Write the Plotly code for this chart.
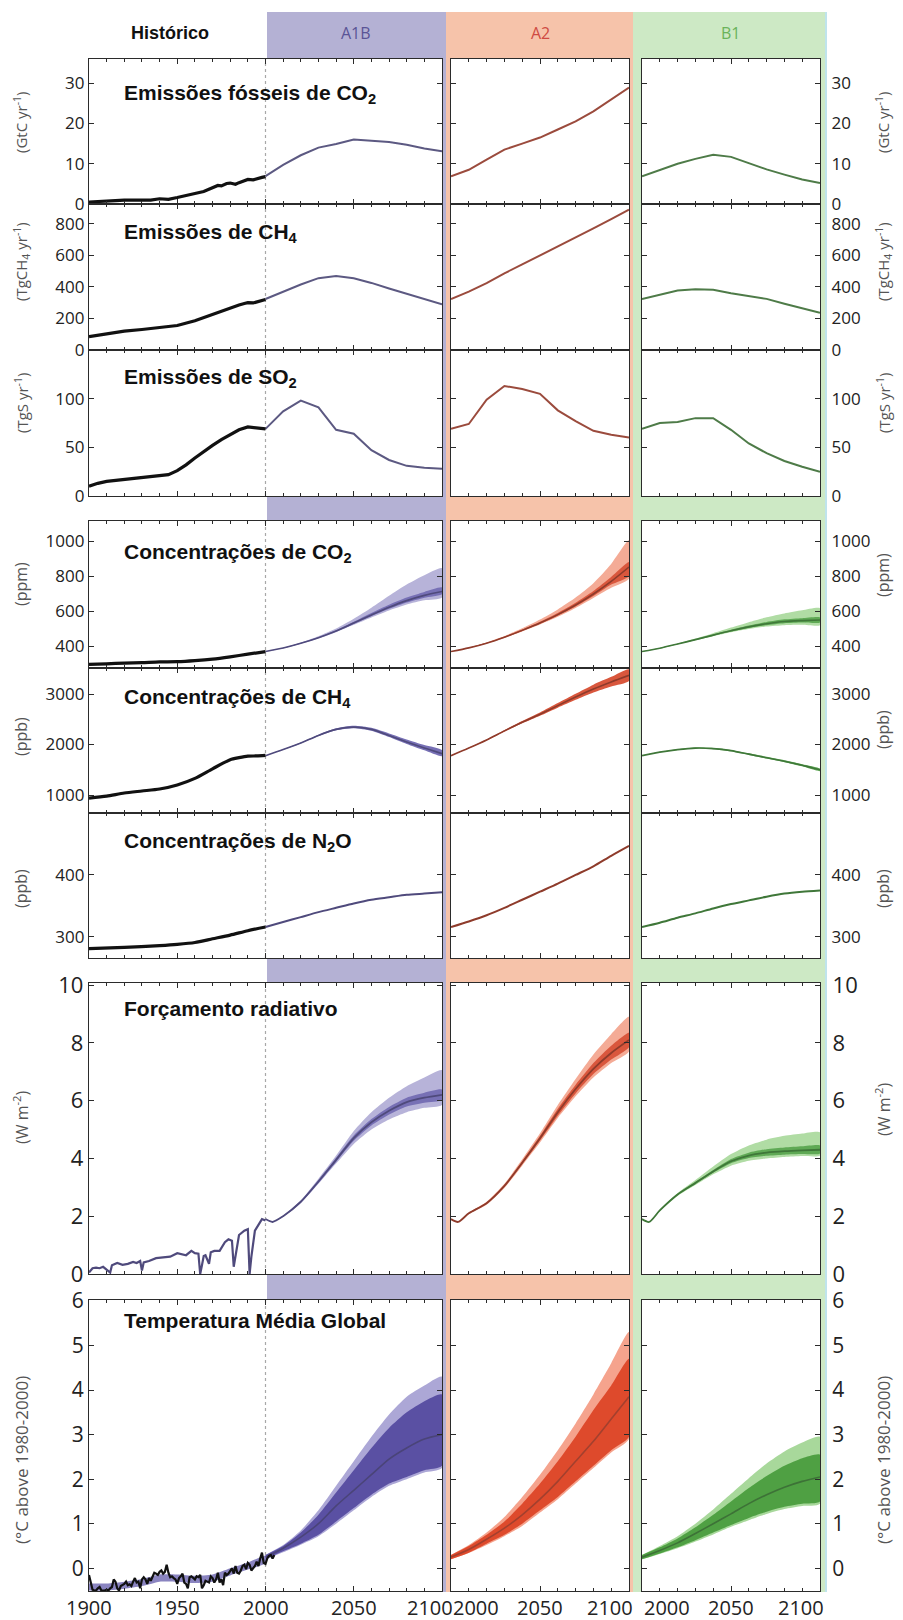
import plotly.graph_objects as go

# ------------------------------------------------------------------ data
PROJ_YEARS = [2000, 2010, 2020, 2030, 2040, 2050, 2060, 2070, 2080, 2090, 2100]
F_YEARS = [2000, 2004, 2010, 2020, 2030, 2040, 2050, 2060, 2070, 2080, 2090, 2100]

# fossil CO2 emissions (GtC/yr)
CO2E_HIST_YEARS = [1900, 1905, 1910, 1915, 1920, 1925, 1930, 1935, 1940, 1945, 1950, 1955, 1960,
                   1965, 1970, 1973, 1975, 1978, 1980, 1983, 1985, 1988, 1990, 1993, 1995, 1998, 2000]
CO2E_HIST = [0.5, 0.55, 0.8, 0.85, 0.95, 1.0, 1.05, 0.95, 1.3, 1.15, 1.6, 2.0, 2.6,
             3.1, 4.0, 4.6, 4.5, 5.1, 5.2, 4.9, 5.3, 5.8, 6.1, 6.0, 6.3, 6.6, 6.8]
CO2E_A1B = [6.9, 9.7, 12.1, 14.0, 14.9, 16.0, 15.7, 15.4, 14.7, 13.8, 13.1]
CO2E_A2 = [6.9, 8.5, 11.0, 13.5, 15.0, 16.5, 18.5, 20.5, 23.0, 25.9, 28.9]
CO2E_B1 = [6.9, 8.5, 10.0, 11.2, 12.2, 11.7, 10.2, 8.6, 7.3, 6.1, 5.2]

# CH4 emissions (TgCH4/yr)
CH4E_HIST_YEARS = [1900, 1910, 1920, 1930, 1940, 1950, 1960, 1970, 1975, 1980, 1985, 1988, 1990, 1993, 1995, 2000]
CH4E_HIST = [85, 105, 120, 130, 140, 155, 185, 225, 250, 265, 285, 295, 300, 298, 305, 320]
CH4E_A1B = [323, 370, 415, 455, 468, 455, 425, 390, 355, 320, 289]
CH4E_A2 = [323, 370, 424, 486, 542, 598, 654, 711, 770, 829, 889]
CH4E_B1 = [323, 349, 377, 385, 381, 359, 342, 324, 293, 266, 236]

# SO2 emissions (TgS/yr)
SO2E_HIST_YEARS = [1900, 1905, 1910, 1920, 1930, 1940, 1945, 1950, 1955, 1960, 1965, 1970, 1975, 1980, 1985, 1990, 1995, 2000]
SO2E_HIST = [10, 13, 15, 17, 19, 21, 22, 26, 32, 39, 46, 52, 58, 63, 68, 71, 70, 69]
SO2E_A1B = [69, 87, 98, 91, 68, 64, 47, 37, 31, 29, 28]
SO2E_A2 = [69, 74, 99, 113, 110, 105, 88, 77, 67, 63, 60]
SO2E_B1 = [69, 75, 76, 80, 80, 68, 54, 44, 36, 30, 25]

# CO2 concentration (ppm)
CO2C_HIST_YEARS = [1900, 1910, 1920, 1930, 1940, 1950, 1960, 1970, 1980, 1990, 2000]
CO2C_HIST = [296, 299, 303, 306, 310, 311, 317, 326, 339, 354, 369]
CO2C_A1B = [369, 389, 416, 448, 486, 532, 578, 622, 660, 690, 712]
CO2C_A1B_OUT_LO = [369, 388, 414, 444, 480, 522, 564, 604, 638, 662, 678]
CO2C_A1B_OUT_HI = [369, 391, 421, 457, 501, 557, 620, 688, 752, 805, 845]
CO2C_A1B_IN_LO = [369, 388, 415, 446, 483, 527, 571, 613, 649, 677, 697]
CO2C_A1B_IN_HI = [369, 390, 418, 451, 491, 540, 590, 637, 678, 710, 735]
CO2C_A2 = [369, 390, 417, 451, 490, 532, 580, 635, 698, 770, 852]
CO2C_A2_OUT_LO = [369, 389, 415, 447, 484, 524, 568, 618, 675, 733, 785]
CO2C_A2_OUT_HI = [369, 392, 421, 458, 502, 552, 610, 678, 760, 870, 1005]
CO2C_A2_IN_LO = [369, 389, 416, 449, 487, 528, 574, 626, 686, 752, 800]
CO2C_A2_IN_HI = [369, 391, 419, 454, 495, 540, 590, 648, 715, 795, 880]
CO2C_B1 = [369, 388, 412, 437, 463, 488, 510, 528, 541, 546, 549]
CO2C_B1_OUT_LO = [369, 387, 410, 433, 457, 479, 498, 512, 520, 522, 520]
CO2C_B1_OUT_HI = [369, 389, 415, 443, 474, 506, 537, 565, 587, 605, 617]
CO2C_B1_IN_LO = [369, 388, 411, 435, 460, 484, 504, 520, 531, 535, 535]
CO2C_B1_IN_HI = [369, 389, 413, 439, 467, 494, 518, 538, 553, 560, 564]

# CH4 concentration (ppb)
CH4C_HIST_YEARS = [1900, 1910, 1920, 1930, 1940, 1950, 1960, 1970, 1980, 1985, 1990, 1995, 2000]
CH4C_HIST = [940, 980, 1040, 1080, 1120, 1200, 1330, 1520, 1700, 1740, 1770, 1775, 1785]
CH4C_A1B = [1780, 1900, 2030, 2180, 2300, 2345, 2300, 2180, 2050, 1930, 1820]
CH4C_A1B_LO = [1780, 1895, 2022, 2168, 2282, 2322, 2272, 2148, 2012, 1885, 1770]
CH4C_A1B_HI = [1780, 1905, 2040, 2195, 2320, 2370, 2330, 2220, 2100, 1990, 1890]
CH4C_A2 = [1780, 1930, 2090, 2270, 2440, 2600, 2770, 2940, 3100, 3240, 3370]
CH4C_A2_LO = [1780, 1925, 2080, 2255, 2420, 2570, 2730, 2885, 3030, 3150, 3260]
CH4C_A2_HI = [1780, 1935, 2100, 2285, 2465, 2635, 2820, 3005, 3185, 3340, 3490]
CH4C_B1 = [1780, 1850, 1900, 1930, 1920, 1880, 1810, 1740, 1670, 1590, 1500]
CH4C_B1_LO = [1780, 1845, 1892, 1920, 1908, 1866, 1794, 1722, 1650, 1568, 1475]
CH4C_B1_HI = [1780, 1855, 1908, 1940, 1932, 1894, 1826, 1758, 1690, 1612, 1525]

# N2O concentration (ppb)
N2O_HIST_YEARS = [1900, 1920, 1940, 1950, 1960, 1970, 1980, 1990, 2000]
N2O_HIST = [281, 283, 286, 288, 291, 297, 303, 310, 316]
N2O_A1B = [316, 324, 332, 340, 347, 354, 360, 364, 368, 370, 372]
N2O_A2 = [316, 325, 335, 347, 360, 373, 386, 400, 414, 431, 447]
N2O_B1 = [316, 323, 331, 338, 346, 353, 359, 365, 370, 373, 375]

# radiative forcing (W m-2)
RF_HIST_YEARS = [1900, 1902, 1904, 1906, 1908, 1910, 1912, 1913, 1916, 1919, 1922, 1925, 1927, 1929,
                 1930, 1931, 1934, 1938, 1942, 1946, 1950, 1953, 1955, 1958, 1960, 1962, 1963, 1964,
                 1965, 1966, 1968, 1969, 1971, 1974, 1977, 1979, 1981, 1982, 1983, 1985, 1988, 1990,
                 1991, 1992, 1994, 1996, 1998, 2000]
RF_HIST = [0.05, 0.2, 0.22, 0.2, 0.25, 0.15, 0.05, 0.3, 0.38, 0.32, 0.35, 0.42, 0.38, 0.45,
           0.12, 0.4, 0.45, 0.55, 0.58, 0.6, 0.72, 0.68, 0.65, 0.8, 0.72, 0.7, 0.0, 0.3,
           0.62, 0.65, 0.35, 0.75, 0.8, 0.8, 1.1, 1.2, 1.15, 0.25, 0.6, 1.35, 1.5, 1.55,
           0.0, 0.6, 1.5, 1.7, 1.9, 1.85]
RF_A1B = [1.9, 1.8, 2.0, 2.5, 3.2, 3.95, 4.7, 5.25, 5.65, 5.95, 6.1, 6.2]
RF_A1B_OUT_HI = [1.9, 1.8, 2.02, 2.55, 3.3, 4.1, 4.95, 5.6, 6.1, 6.5, 6.8, 7.05]
RF_A1B_OUT_LO = [1.9, 1.8, 1.98, 2.45, 3.12, 3.82, 4.5, 5.0, 5.35, 5.6, 5.75, 5.85]
RF_A1B_IN_HI = [1.9, 1.8, 2.01, 2.53, 3.25, 4.02, 4.79, 5.36, 5.78, 6.1, 6.27, 6.38]
RF_A1B_IN_LO = [1.9, 1.8, 1.99, 2.47, 3.15, 3.88, 4.61, 5.14, 5.52, 5.8, 5.93, 6.02]
RF_A2 = [1.9, 1.8, 2.1, 2.45, 3.05, 3.85, 4.7, 5.6, 6.4, 7.1, 7.65, 8.1]
RF_A2_OUT_HI = [1.9, 1.8, 2.12, 2.5, 3.12, 3.97, 4.87, 5.85, 6.75, 7.6, 8.3, 8.9]
RF_A2_OUT_LO = [1.9, 1.8, 2.08, 2.4, 2.98, 3.75, 4.55, 5.4, 6.15, 6.8, 7.3, 7.7]
RF_A2_IN_HI = [1.9, 1.8, 2.11, 2.47, 3.08, 3.9, 4.78, 5.72, 6.55, 7.3, 7.9, 8.35]
RF_A2_IN_LO = [1.9, 1.8, 2.09, 2.43, 3.02, 3.8, 4.62, 5.48, 6.25, 6.92, 7.42, 7.85]
RF_B1 = [1.9, 1.8, 2.2, 2.75, 3.15, 3.55, 3.9, 4.1, 4.2, 4.25, 4.28, 4.3]
RF_B1_OUT_HI = [1.9, 1.8, 2.22, 2.8, 3.25, 3.72, 4.15, 4.45, 4.65, 4.78, 4.86, 4.9]
RF_B1_OUT_LO = [1.9, 1.8, 2.18, 2.7, 3.08, 3.45, 3.75, 3.92, 4.0, 4.05, 4.08, 4.1]
RF_B1_IN_HI = [1.9, 1.8, 2.21, 2.77, 3.19, 3.6, 3.98, 4.2, 4.32, 4.38, 4.42, 4.45]
RF_B1_IN_LO = [1.9, 1.8, 2.19, 2.73, 3.11, 3.5, 3.83, 4.01, 4.09, 4.13, 4.15, 4.17]

# global mean temperature (deg C above 1980-2000)
T_OBS_YEARS = list(range(1900, 2006))
T_OBS = [-0.15, -0.35, -0.48, -0.50, -0.50, -0.45, -0.42, -0.50, -0.50, -0.50,
         -0.48, -0.50, -0.45, -0.42, -0.25, -0.30, -0.45, -0.50, -0.40, -0.38,
         -0.35, -0.30, -0.38, -0.36, -0.40, -0.30, -0.22, -0.32, -0.30, -0.45,
         -0.25, -0.20, -0.25, -0.35, -0.22, -0.28, -0.20, -0.10, -0.12, -0.15,
         -0.08, -0.05, -0.12, -0.08, 0.08, -0.10, -0.20, -0.18, -0.22, -0.25,
         -0.35, -0.22, -0.18, -0.12, -0.32, -0.35, -0.45, -0.20, -0.18, -0.22,
         -0.25, -0.18, -0.20, -0.15, -0.45, -0.38, -0.28, -0.30, -0.32, -0.18,
         -0.22, -0.32, -0.25, -0.10, -0.32, -0.25, -0.38, -0.10, -0.15, -0.12,
         -0.05, 0.00, -0.12, 0.05, -0.10, -0.12, -0.05, 0.05, 0.08, -0.02,
         0.12, 0.08, -0.05, 0.00, 0.05, 0.15, 0.05, 0.22, 0.35, 0.12,
         0.10, 0.22, 0.28, 0.30, 0.22, 0.30]
T_MODEL_HIST_YEARS = [1900, 1910, 1920, 1930, 1940, 1950, 1960, 1970, 1980, 1990, 2000]
T_MODEL_HIST_LO = [-0.50, -0.50, -0.46, -0.40, -0.30, -0.30, -0.33, -0.30, -0.16, -0.03, 0.12]
T_MODEL_HIST_HI = [-0.34, -0.34, -0.30, -0.24, -0.14, -0.14, -0.17, -0.14, 0.00, 0.13, 0.28]
T_A1B = [0.25, 0.45, 0.7, 1.0, 1.4, 1.75, 2.1, 2.45, 2.7, 2.9, 3.0]
T_A1B_IN_LO = [0.2, 0.38, 0.55, 0.75, 1.05, 1.35, 1.65, 1.9, 2.05, 2.2, 2.3]
T_A1B_IN_HI = [0.3, 0.5, 0.8, 1.2, 1.7, 2.2, 2.7, 3.15, 3.5, 3.75, 3.9]
T_A1B_OUT_LO = [0.2, 0.36, 0.53, 0.72, 1.0, 1.3, 1.6, 1.85, 2.0, 2.15, 2.25]
T_A1B_OUT_HI = [0.3, 0.52, 0.85, 1.3, 1.85, 2.4, 2.95, 3.45, 3.85, 4.1, 4.3]
T_A2 = [0.25, 0.42, 0.65, 0.9, 1.2, 1.55, 1.95, 2.4, 2.85, 3.35, 3.85]
T_A2_IN_LO = [0.2, 0.35, 0.55, 0.75, 1.0, 1.3, 1.6, 1.95, 2.3, 2.65, 2.95]
T_A2_IN_HI = [0.3, 0.5, 0.75, 1.05, 1.45, 1.9, 2.4, 2.95, 3.55, 4.1, 4.7]
T_A2_OUT_LO = [0.2, 0.34, 0.52, 0.72, 0.95, 1.25, 1.55, 1.9, 2.25, 2.6, 2.9]
T_A2_OUT_HI = [0.3, 0.52, 0.8, 1.15, 1.6, 2.1, 2.65, 3.25, 3.9, 4.6, 5.3]
T_B1 = [0.25, 0.4, 0.57, 0.78, 1.0, 1.22, 1.45, 1.65, 1.82, 1.95, 2.05]
T_B1_IN_LO = [0.2, 0.33, 0.47, 0.63, 0.8, 0.97, 1.13, 1.27, 1.38, 1.45, 1.5]
T_B1_IN_HI = [0.3, 0.47, 0.67, 0.92, 1.2, 1.5, 1.8, 2.07, 2.3, 2.47, 2.55]
T_B1_OUT_LO = [0.2, 0.32, 0.45, 0.6, 0.76, 0.93, 1.08, 1.22, 1.33, 1.4, 1.45]
T_B1_OUT_HI = [0.3, 0.5, 0.72, 1.0, 1.32, 1.67, 2.02, 2.35, 2.62, 2.82, 2.95]

# axis / text labels
PANEL_TITLES = ["Emissões fósseis de CO<sub>2</sub>", "Emissões de CH<sub>4</sub>",
                "Emissões de SO<sub>2</sub>", "Concentrações de CO<sub>2</sub>",
                "Concentrações de CH<sub>4</sub>", "Concentrações de N<sub>2</sub>O",
                "Forçamento radiativo", "Temperatura Média Global"]
UNIT_LABELS = ["(GtC yr<sup>-1</sup>)", "(TgCH<sub>4</sub> yr<sup>-1</sup>)", "(TgS yr<sup>-1</sup>)",
               "(ppm)", "(ppb)", "(ppb)", "(W m<sup>-2</sup>)", "(°C above 1980-2000)"]
Y_RANGES = [[0, 36], [0, 925], [0, 150], [275, 1115], [645, 3515], [266, 500], [0, 10.07], [-0.51, 6.02]]
Y_TICKS = [[0, 10, 20, 30], [0, 200, 400, 600, 800], [0, 50, 100], [400, 600, 800, 1000],
           [1000, 2000, 3000], [300, 400], [0, 2, 4, 6, 8, 10], [0, 1, 2, 3, 4, 5, 6]]
X_TICKS_HIST = [1900, 1950, 2000, 2050, 2100]
X_TICKS_PROJ = [2000, 2050, 2100]
SCENARIOS = ["A1B", "A2", "B1"]

# ------------------------------------------------------------------ layout geometry (px)
W, H = 903, 1620
COLS = [(89, 442), (451, 629), (642, 820)]
ROWS = [(59, 204), (204, 350), (350, 496), (521, 668), (668, 813), (813, 958), (983, 1274), (1300, 1591)]
TICK_SIZES = [17, 17, 17, 17, 17, 17, 22, 21]
TITLE_Y = [94, 233, 378, 553, 698, 842, 1008, 1320]
LEFT_UNIT_Y = [122, 262, 403, 584, 737, 889, 1118, 1460]
RIGHT_UNIT_Y = [122, 262, 403, 575, 730, 889, 1110, 1460]
UNIT_SIZES = [15, 15, 15, 16, 16, 16, 16, 17]

BAND_BG = {"A1B": "#b4b1d4", "A2": "#f6c3aa", "B1": "#cde9c5"}
BAND_TXT = {"A1B": "#5a5496", "A2": "#cf4a42", "B1": "#6ab35a"}
EMIS_LINE = {"A1B": "#5c5982", "A2": "#9b4b3d", "B1": "#4e7b48"}
CONC_LINE = {"A1B": "#4f4a7c", "A2": "#8e3b2b", "B1": "#3f7739"}
CONC_OUT = {"A1B": "#b7b3d9", "A2": "#f4ab96", "B1": "#b0dca4"}
CONC_IN = {"A1B": "#7770b5", "A2": "#d9573d", "B1": "#5fa955"}
T_OUT = {"A1B": "#aca7d6", "A2": "#f5a38d", "B1": "#a8d89b"}
T_IN = {"A1B": "#5a50a3", "A2": "#de4a2c", "B1": "#4fa043"}
T_LINE = {"A1B": "#4a4478", "A2": "#a3402e", "B1": "#3d7237"}
FRAME = "#2b2b2b"
FONT = "Open Sans"


def px_x(v):
    return v / W


def px_y(v):
    return 1 - v / H


def ids(r, c):
    n = r * 3 + c + 1
    return ("x" if n == 1 else f"x{n}"), ("y" if n == 1 else f"y{n}"), n


fig = go.Figure()


def add_line(r, c, x, y, color, width, shape="linear"):
    xid, yid, _ = ids(r, c)
    fig.add_trace(go.Scatter(x=x, y=y, mode="lines", xaxis=xid, yaxis=yid,
                             line=dict(color=color, width=width, shape=shape, smoothing=0.7),
                             showlegend=False, hoverinfo="skip"))


def add_band(r, c, x, lo, hi, color, shape="spline"):
    xid, yid, _ = ids(r, c)
    fig.add_trace(go.Scatter(x=list(x) + list(x)[::-1], y=list(hi) + list(lo)[::-1],
                             mode="lines", fill="toself", fillcolor=color,
                             line=dict(width=0, color=color, shape=shape, smoothing=0.6),
                             xaxis=xid, yaxis=yid, showlegend=False, hoverinfo="skip"))


# ---------------- emissions rows (0..2)
emis = [
    (CO2E_HIST_YEARS, CO2E_HIST, {"A1B": CO2E_A1B, "A2": CO2E_A2, "B1": CO2E_B1}),
    (CH4E_HIST_YEARS, CH4E_HIST, {"A1B": CH4E_A1B, "A2": CH4E_A2, "B1": CH4E_B1}),
    (SO2E_HIST_YEARS, SO2E_HIST, {"A1B": SO2E_A1B, "A2": SO2E_A2, "B1": SO2E_B1}),
]
for r, (hy, hv, proj) in enumerate(emis):
    add_line(r, 0, PROJ_YEARS, proj["A1B"], EMIS_LINE["A1B"], 2)
    add_line(r, 0, hy, hv, "#111111", 3.2)
    add_line(r, 1, PROJ_YEARS, proj["A2"], EMIS_LINE["A2"], 2)
    add_line(r, 2, PROJ_YEARS, proj["B1"], EMIS_LINE["B1"], 2)

# ---------------- CO2 concentration (row 3)
co2 = {
    "A1B": (CO2C_A1B, CO2C_A1B_OUT_LO, CO2C_A1B_OUT_HI, CO2C_A1B_IN_LO, CO2C_A1B_IN_HI),
    "A2": (CO2C_A2, CO2C_A2_OUT_LO, CO2C_A2_OUT_HI, CO2C_A2_IN_LO, CO2C_A2_IN_HI),
    "B1": (CO2C_B1, CO2C_B1_OUT_LO, CO2C_B1_OUT_HI, CO2C_B1_IN_LO, CO2C_B1_IN_HI),
}
for c, sc in enumerate(SCENARIOS):
    mid, olo, ohi, ilo, ihi = co2[sc]
    add_band(3, c, PROJ_YEARS, olo, ohi, CONC_OUT[sc])
    add_band(3, c, PROJ_YEARS, ilo, ihi, CONC_IN[sc])
    add_line(3, c, PROJ_YEARS, mid, CONC_LINE[sc], 1.6, "spline")
add_line(3, 0, CO2C_HIST_YEARS, CO2C_HIST, "#111111", 3.2, "spline")

# ---------------- CH4 concentration (row 4)
ch4 = {
    "A1B": (CH4C_A1B, CH4C_A1B_LO, CH4C_A1B_HI),
    "A2": (CH4C_A2, CH4C_A2_LO, CH4C_A2_HI),
    "B1": (CH4C_B1, CH4C_B1_LO, CH4C_B1_HI),
}
for c, sc in enumerate(SCENARIOS):
    mid, lo, hi = ch4[sc]
    add_band(4, c, PROJ_YEARS, lo, hi, CONC_IN[sc])
    add_line(4, c, PROJ_YEARS, mid, CONC_LINE[sc], 1.6, "spline")
add_line(4, 0, CH4C_HIST_YEARS, CH4C_HIST, "#111111", 3.2, "spline")

# ---------------- N2O concentration (row 5)
n2o = {"A1B": N2O_A1B, "A2": N2O_A2, "B1": N2O_B1}
for c, sc in enumerate(SCENARIOS):
    add_line(5, c, PROJ_YEARS, n2o[sc], CONC_LINE[sc], 2, "spline")
add_line(5, 0, N2O_HIST_YEARS, N2O_HIST, "#111111", 3.2, "spline")

# ---------------- radiative forcing (row 6)
rf = {
    "A1B": (RF_A1B, RF_A1B_OUT_LO, RF_A1B_OUT_HI, RF_A1B_IN_LO, RF_A1B_IN_HI),
    "A2": (RF_A2, RF_A2_OUT_LO, RF_A2_OUT_HI, RF_A2_IN_LO, RF_A2_IN_HI),
    "B1": (RF_B1, RF_B1_OUT_LO, RF_B1_OUT_HI, RF_B1_IN_LO, RF_B1_IN_HI),
}
for c, sc in enumerate(SCENARIOS):
    mid, olo, ohi, ilo, ihi = rf[sc]
    add_band(6, c, F_YEARS, olo, ohi, CONC_OUT[sc])
    add_band(6, c, F_YEARS, ilo, ihi, CONC_IN[sc])
    add_line(6, c, F_YEARS, mid, CONC_LINE[sc], 1.8, "spline")
add_line(6, 0, RF_HIST_YEARS, RF_HIST, "#4f4a7c", 2.2)

# ---------------- temperature (row 7)
tt = {
    "A1B": (T_A1B, T_A1B_OUT_LO, T_A1B_OUT_HI, T_A1B_IN_LO, T_A1B_IN_HI),
    "A2": (T_A2, T_A2_OUT_LO, T_A2_OUT_HI, T_A2_IN_LO, T_A2_IN_HI),
    "B1": (T_B1, T_B1_OUT_LO, T_B1_OUT_HI, T_B1_IN_LO, T_B1_IN_HI),
}
add_band(7, 0, T_MODEL_HIST_YEARS, T_MODEL_HIST_LO, T_MODEL_HIST_HI, "#8a84c0")
for c, sc in enumerate(SCENARIOS):
    mid, olo, ohi, ilo, ihi = tt[sc]
    add_band(7, c, PROJ_YEARS, olo, ohi, T_OUT[sc])
    add_band(7, c, PROJ_YEARS, ilo, ihi, T_IN[sc])
    add_line(7, c, PROJ_YEARS, mid, T_LINE[sc], 1.6, "spline")
add_line(7, 0, T_OBS_YEARS, T_OBS, "#111111", 2.2)

# ------------------------------------------------------------------ axes
layout = dict(width=W, height=H, margin=dict(l=0, r=0, t=0, b=0, autoexpand=False),
              paper_bgcolor="white", plot_bgcolor="rgba(0,0,0,0)",
              font=dict(family=FONT, color="#222"), showlegend=False)

for r in range(8):
    for c in range(3):
        xid, yid, n = ids(r, c)
        xk = "xaxis" if n == 1 else f"xaxis{n}"
        yk = "yaxis" if n == 1 else f"yaxis{n}"
        x0, x1 = COLS[c]
        y0, y1 = ROWS[r]
        xr = [1900, 2100] if c == 0 else [2000, 2100]
        layout[xk] = dict(domain=[px_x(x0), px_x(x1)], anchor=yid, range=xr,
                          showgrid=False, zeroline=False, showline=True, mirror="ticks",
                          linecolor=FRAME, linewidth=1.3, ticks="inside", ticklen=5,
                          tickcolor=FRAME, tickwidth=1,
                          tickmode="array", tickvals=X_TICKS_HIST if c == 0 else X_TICKS_PROJ,
                          showticklabels=False,
                          minor=dict(ticks="inside", ticklen=3, tickmode="linear",
                                     tick0=1900, dtick=10, tickcolor=FRAME))
        ydict = dict(domain=[px_y(y1), px_y(y0)], anchor=xid, range=Y_RANGES[r],
                     showgrid=False, zeroline=False, showline=True, mirror="ticks",
                     linecolor=FRAME, linewidth=1.3, ticks="inside", ticklen=5,
                     tickcolor=FRAME, tickmode="array", tickvals=Y_TICKS[r],
                     showticklabels=(c != 1),
                     tickfont=dict(family=FONT, size=TICK_SIZES[r], color="#222"))
        if c == 2:
            ydict["side"] = "right"
            ydict["ticklabelstandoff"] = 7
        layout[yk] = ydict

# ------------------------------------------------------------------ shapes
shapes = []
band_x = {"A1B": (267, 446), "A2": (446, 633), "B1": (633, 825)}
for sc in SCENARIOS:
    a, b = band_x[sc]
    shapes.append(dict(type="rect", xref="paper", yref="paper", layer="below",
                       x0=px_x(a), x1=px_x(b), y0=px_y(1592), y1=px_y(12),
                       fillcolor=BAND_BG[sc], line=dict(width=0)))
shapes.append(dict(type="line", xref="paper", yref="paper", layer="below",
                   x0=px_x(826), x1=px_x(826), y0=px_y(1592), y1=px_y(12),
                   line=dict(color="#bfe4ec", width=2)))
for r in range(8):
    for c in range(3):
        xid, yid, n = ids(r, c)
        shapes.append(dict(type="rect", xref=f"{xid} domain", yref=f"{yid} domain", layer="below",
                           x0=0, x1=1, y0=0, y1=1, fillcolor="white", line=dict(width=0)))
    xid, yid, n = ids(r, 0)
    shapes.append(dict(type="line", xref=xid, yref=f"{yid} domain", layer="below",
                       x0=2000, x1=2000, y0=0, y1=1,
                       line=dict(color="#a8a8a8", width=1.2, dash="dot")))
layout["shapes"] = shapes

# ------------------------------------------------------------------ annotations
ann = []


def text(t, x, y, size, color="#111", xanchor="center", yanchor="middle", angle=0, **kw):
    d = dict(text=t, x=px_x(x), y=px_y(y), xref="paper", yref="paper", showarrow=False,
             xanchor=xanchor, yanchor=yanchor, textangle=angle,
             font=dict(family=kw.pop("family", FONT), size=size, color=color))
    d.update(kw)
    ann.append(d)


text("<b>Histórico</b>", 170, 33, 18, "#111", family="Liberation Sans")
text("A1B", 356, 33, 16, BAND_TXT["A1B"])
text("A2", 540, 33, 16, BAND_TXT["A2"])
text("B1", 730, 33, 16, BAND_TXT["B1"])

for r in range(8):
    text("<b>" + PANEL_TITLES[r] + "</b>", 122, TITLE_Y[r], 21, "#111", xanchor="left",
         family="Liberation Sans")
    text(UNIT_LABELS[r], 21, LEFT_UNIT_Y[r], UNIT_SIZES[r], "#555", angle=-90)
    text(UNIT_LABELS[r], 883, RIGHT_UNIT_Y[r], UNIT_SIZES[r], "#555", angle=-90)

# bottom x tick labels (bottom row)
label_y = px_y(1607)
for c in range(3):
    xid, yid, n = ids(7, c)
    vals = X_TICKS_HIST if c == 0 else X_TICKS_PROJ
    for v in vals:
        d = dict(text=str(v), x=v, y=label_y, xref=xid, yref="paper", showarrow=False,
                 yanchor="middle", font=dict(family=FONT, size=20, color="#222"))
        if c == 0:
            if v == 2100:
                d.update(xanchor="right", xshift=13)
            else:
                d.update(xanchor="center")
        else:
            if v == 2000:
                d.update(xanchor="left", xshift=1, bgcolor="white", borderpad=0)
            elif v == 2100:
                d.update(xanchor="right", xshift=6)
            else:
                d.update(xanchor="center")
        ann.append(d)
layout["annotations"] = ann

fig.update_layout(**layout)
fig.write_html("out.html")
